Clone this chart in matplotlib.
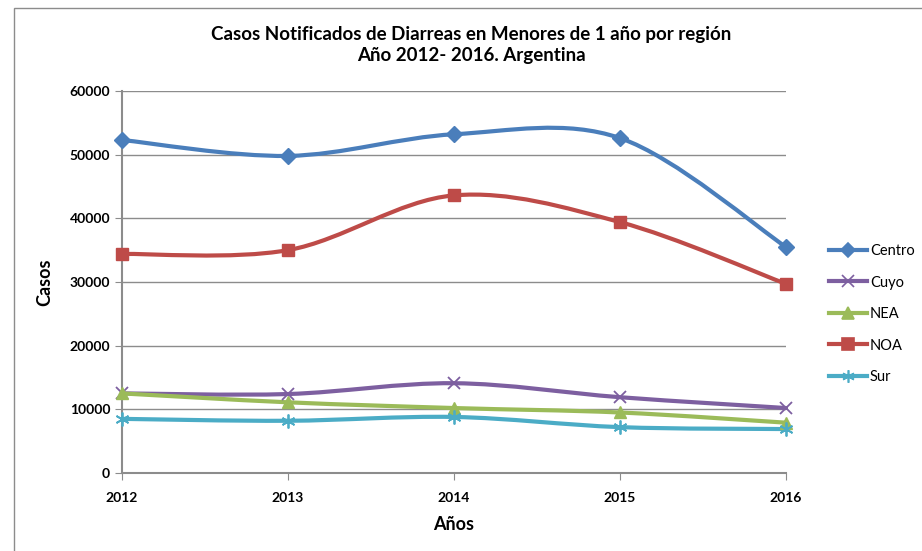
import numpy as np
import matplotlib.pyplot as plt
from matplotlib.path import Path
from matplotlib.patches import PathPatch, Rectangle
from matplotlib.lines import Line2D

plt.rcParams['font.family'] = ['Lato', 'DejaVu Sans']

# datos
anios = [2012, 2013, 2014, 2015, 2016]
centro = [52300, 49800, 53200, 52600, 35500]
cuyo = [12500, 12400, 14100, 11900, 10200]
nea = [12500, 11100, 10200, 9500, 7900]
noa = [34400, 35000, 43600, 39400, 29700]
sur = [8500, 8200, 8800, 7200, 6900]

series = [
    ("Centro", centro, "#4A7EBB", "D", 8),
    ("Cuyo", cuyo, "#7D5FA0", "x", 9),
    ("NEA", nea, "#9BBB59", "^", 9),
    ("NOA", noa, "#BE4B48", "s", 9),
    ("Sur", sur, "#4BACC6", (6, 2, 0), 10),
]


def curva_suave(x, y):
    # curva tipo Excel (bezier con puntos de control catmull-rom)
    pts = np.column_stack([x, y]).astype(float)
    ext = np.vstack([pts[0], pts, pts[-1]])
    verts = [pts[0]]
    codes = [Path.MOVETO]
    for i in range(len(pts) - 1):
        p0, p1, p2, p3 = ext[i], ext[i + 1], ext[i + 2], ext[i + 3]
        c1 = p1 + (p2 - p0) / 6
        c2 = p2 - (p3 - p1) / 6
        verts += [c1, c2, p2]
        codes += [Path.CURVE4] * 3
    return Path(verts, codes)


fig = plt.figure(figsize=(9.22, 5.51), dpi=100)
ax = fig.add_axes([0.1323, 0.1416, 0.7202, 0.6933])

handles = []
for nombre, vals, color, mk, ms in series:
    patch = PathPatch(curva_suave(anios, vals), facecolor='none', edgecolor=color,
                      lw=3, clip_on=False, zorder=3, capstyle='round')
    ax.add_patch(patch)
    if mk in ("x", (6, 2, 0)):
        ax.plot(anios, vals, ls='none', marker=mk, ms=ms, mew=1.3, color=color,
                clip_on=False, zorder=4)
    else:
        ax.plot(anios, vals, ls='none', marker=mk, ms=ms, color=color, mec=color,
                clip_on=False, zorder=4)
    handles.append(Line2D([], [], color=color, lw=3, marker=mk, ms=ms - 1, mew=1.2,
                          label=nombre))

ax.set_xlim(2012, 2016)
ax.set_ylim(0, 60000)
ax.set_xticks(anios)
ax.set_yticks(range(0, 60001, 10000))
ax.grid(axis='y', color='#8c8c8c', lw=1)
ax.set_axisbelow(True)
for s in ['top', 'right']:
    ax.spines[s].set_visible(False)
for s in ['left', 'bottom']:
    ax.spines[s].set_color('#8c8c8c')
    ax.spines[s].set_linewidth(1.5)
ax.tick_params(axis='both', direction='out', length=5, color='#8c8c8c',
               labelsize=10)
ax.tick_params(axis='x', pad=9)
for lab in ax.get_xticklabels() + ax.get_yticklabels():
    lab.set_fontweight('bold')

ax.set_xlabel("Años", fontsize=13, fontweight='bold', labelpad=8)
ax.set_ylabel("Casos", fontsize=13, fontweight='bold', labelpad=12)
fig.text(0.511, 0.918, "Casos Notificados de Diarreas en Menores de 1 año por región\nAño 2012- 2016. Argentina",
         ha='center', va='center', fontsize=13.5, fontweight='bold', linespacing=1.3)

leg = fig.legend(handles=handles, loc='center left', bbox_to_anchor=(0.885, 0.43),
                 frameon=False, fontsize=10.5, handlelength=2.6, labelspacing=1.2,
                 handletextpad=0.2)

# marco del grafico
fig.add_artist(Rectangle((14 / 922, -0.01), 1.0, 1 - 8 / 551 + 0.01,
                         transform=fig.transFigure, fill=False, ec='#8c8c8c', lw=1))

fig.savefig("out.png", dpi=100)
